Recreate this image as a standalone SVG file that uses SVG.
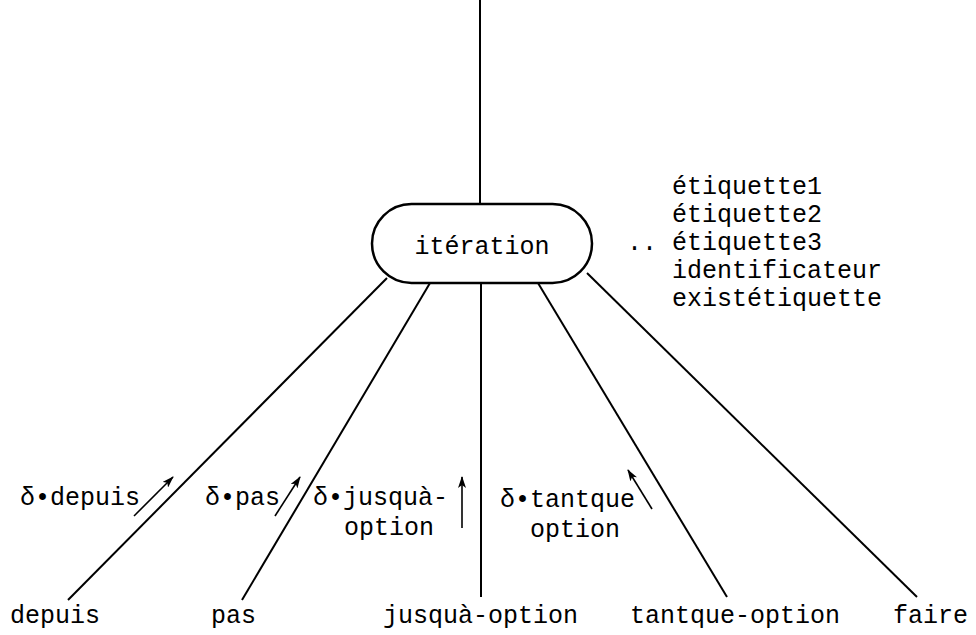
<svg xmlns="http://www.w3.org/2000/svg" width="976" height="635" viewBox="0 0 976 635">
<style>
text{font-family:"Liberation Mono","DejaVu Sans Mono",monospace;font-size:25px;fill:#000}
.ln{stroke:#000;stroke-width:2;fill:none}
.ar{stroke:#000;stroke-width:1.6;fill:none;marker-end:url(#ah)}
</style>
<defs>
<marker id="ah" viewBox="0 0 12 8" refX="11" refY="4" markerWidth="12" markerHeight="8" markerUnits="userSpaceOnUse" orient="auto">
<path d="M0,0 L12,4 L0,8 L3,4 z" fill="#000"/>
</marker>
</defs>
<g id="connectors">
<line class="ln" x1="480" y1="0" x2="480" y2="204"/>
<line class="ln" x1="387" y1="278" x2="68" y2="600"/>
<line class="ln" x1="430" y1="283" x2="242" y2="600"/>
<line class="ln" x1="481" y1="283" x2="481" y2="597"/>
<line class="ln" x1="538" y1="283" x2="727" y2="597"/>
<line class="ln" x1="587" y1="273" x2="917" y2="597"/>
<line class="ar" x1="134" y1="516" x2="173" y2="477"/>
<line class="ar" x1="275" y1="516" x2="300" y2="477"/>
<line class="ar" x1="462" y1="528" x2="462" y2="477"/>
<line class="ar" x1="652" y1="509" x2="628" y2="470"/>
</g>
<g id="iteration">
<rect x="372" y="204" width="220" height="79" rx="39.5" ry="39.5" fill="#fff" stroke="#000" stroke-width="2.5"/>
<text x="482" y="254" text-anchor="middle">itération</text>
</g>
<g id="labels-right">
<text x="627" y="250">..</text>
<text x="672" y="194">étiquette1</text>
<text x="672" y="222">étiquette2</text>
<text x="672" y="250">étiquette3</text>
<text x="672" y="278">identificateur</text>
<text x="672" y="306">existétiquette</text>
</g>
<g id="edge-labels">
<text x="20" y="505">δ•depuis</text>
<text x="205" y="505">δ•pas</text>
<text x="313" y="505">δ•jusquà-</text>
<text x="344" y="535">option</text>
<text x="500" y="507">δ•tantque</text>
<text x="530" y="537">option</text>
</g>
<g id="depuis"><text x="10" y="623">depuis</text></g>
<g id="pas"><text x="211" y="623">pas</text></g>
<g id="jusqua-option"><text x="383" y="623">jusquà-option</text></g>
<g id="tantque-option"><text x="630" y="623">tantque-option</text></g>
<g id="faire"><text x="893" y="623">faire</text></g>
</svg>
